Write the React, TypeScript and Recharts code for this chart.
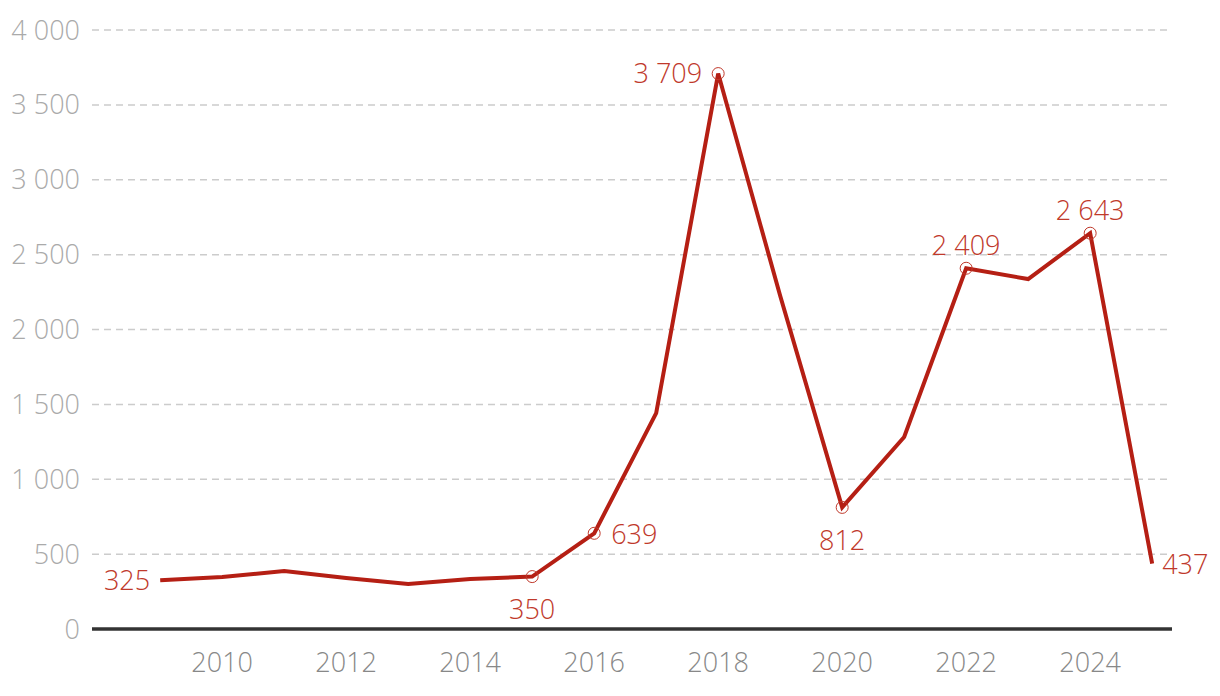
import React from "react";
import { LineChart, Line, XAxis, YAxis, CartesianGrid, ReferenceLine } from "recharts";

const years = [2009, 2010, 2011, 2012, 2013, 2014, 2015, 2016, 2017, 2018, 2019, 2020, 2021, 2022, 2023, 2024, 2025];
const values = [325, 347, 387, 340, 300, 334, 350, 639, 1442, 3709, 2225, 812, 1282, 2409, 2337, 2643, 437];
const xTicks = [2010, 2012, 2014, 2016, 2018, 2020, 2022, 2024];
const yTicks = [0, 500, 1000, 1500, 2000, 2500, 3000, 3500, 4000];

// which points get a value label, and where it sits
const labelled: Record<number, { pos: string; ring: boolean }> = {
  2009: { pos: "left", ring: false },
  2015: { pos: "below", ring: true },
  2016: { pos: "right", ring: true },
  2018: { pos: "left", ring: true },
  2020: { pos: "below", ring: true },
  2022: { pos: "above", ring: true },
  2024: { pos: "above", ring: true },
  2025: { pos: "right", ring: false },
};

const data = years.map((year, i) => ({ year, value: values[i] }));

const RED = "#b51f14";
const LABEL_RED = "#c0392b";
const FONT = "'Open Sans', 'Noto Sans', sans-serif";

const fmt = (v: number) => v.toLocaleString("en-US").replace(/,/g, " ");

function PointMark(props: any) {
  const { cx, cy, payload } = props;
  const cfg = labelled[payload.year];
  if (!cfg) return <g key={payload.year} />;
  let x = cx;
  let y = cy;
  let anchor: "start" | "middle" | "end" = "middle";
  if (cfg.pos === "left") {
    x = cx - (cfg.ring ? 16 : 10);
    y = cy - 1;
    anchor = "end";
  } else if (cfg.pos === "right") {
    x = cx + (cfg.ring ? 17 : 10);
    anchor = "start";
  } else if (cfg.pos === "below") {
    y = cy + 32;
  } else {
    y = cy - 24;
  }
  return (
    <g key={payload.year}>
      {cfg.ring && <circle cx={cx} cy={cy} r={6} fill="none" stroke={LABEL_RED} strokeWidth={1} />}
      <text
        x={x}
        y={y}
        textAnchor={anchor}
        dominantBaseline="central"
        fill={LABEL_RED}
        fontSize={27}
        fontWeight={300}
        fontFamily={FONT}
      >
        {fmt(payload.value)}
      </text>
    </g>
  );
}

export default function App() {
  return (
    <div style={{ position: "absolute", left: 0, top: 0, width: 1220, height: 696, background: "#fff" }}>
      <LineChart width={1220} height={696} data={data} margin={{ top: 30, right: 48, bottom: 27, left: 0 }}>
        <CartesianGrid vertical={false} stroke="#cccccc" strokeWidth={1.5} strokeDasharray="7 5" />
        <XAxis
          dataKey="year"
          type="number"
          domain={[2007.9, 2025.32]}
          ticks={xTicks}
          axisLine={false}
          tickLine={false}
          tickSize={0}
          tickMargin={24}
          height={40}
          tick={{ fill: "#888888", fontSize: 27, fontWeight: 300, fontFamily: FONT }}
        />
        <YAxis
          domain={[0, 4000]}
          ticks={yTicks}
          width={92}
          axisLine={false}
          tickLine={false}
          tickSize={0}
          tickMargin={12}
          tickFormatter={fmt}
          tick={{ fill: "#aaaaaa", fontSize: 27, fontWeight: 300, fontFamily: FONT }}
        />
        <ReferenceLine y={0} stroke="#333333" strokeWidth={3.5} />
        <Line
          type="linear"
          dataKey="value"
          stroke={RED}
          strokeWidth={4}
          dot={PointMark}
          activeDot={false}
          isAnimationActive={false}
        />
      </LineChart>
    </div>
  );
}
